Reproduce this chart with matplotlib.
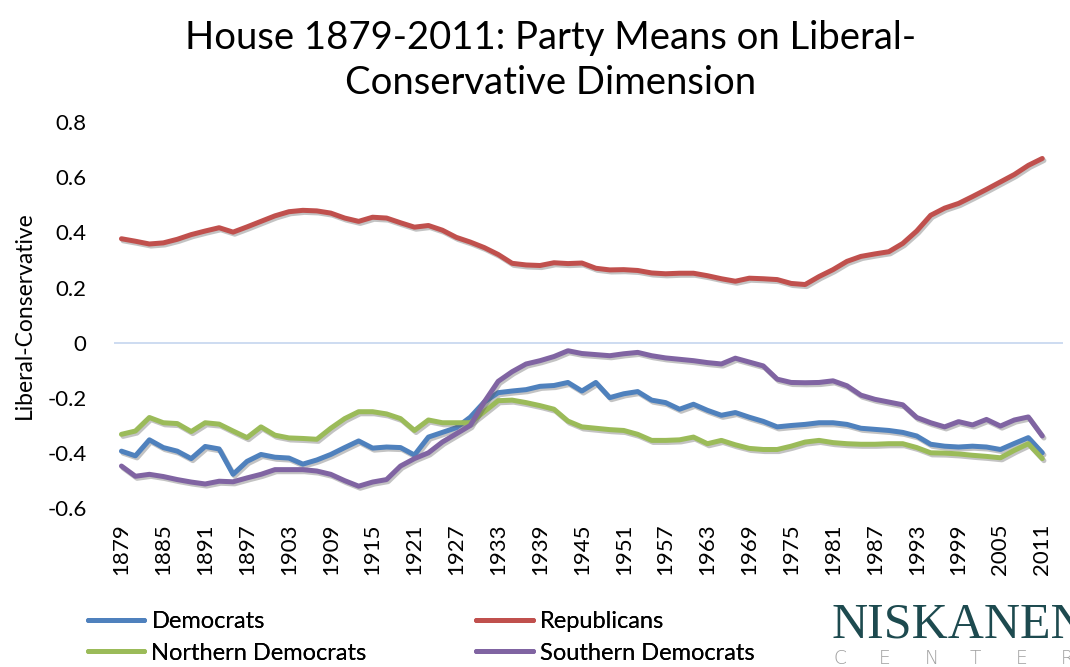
import numpy as np
import matplotlib.pyplot as plt
import matplotlib.patheffects as pe
from matplotlib.lines import Line2D

plt.rcParams['font.family'] = ['Lato', 'DejaVu Sans']

# Congress start years, 1879..2011 (every 2 years)
years = list(range(1879, 2012, 2))
tick_years = list(range(1879, 2012, 6))

democrats = [
    -0.393, -0.410, -0.352, -0.380, -0.393, -0.420, -0.376, -0.385, -0.477, -0.430,
    -0.405, -0.415, -0.418, -0.440, -0.425, -0.405, -0.380, -0.356, -0.382, -0.378,
    -0.380, -0.407, -0.342, -0.325, -0.308, -0.270, -0.215, -0.181, -0.175, -0.170,
    -0.158, -0.155, -0.144, -0.175, -0.144, -0.199, -0.185, -0.177, -0.208, -0.217,
    -0.241, -0.223, -0.245, -0.263, -0.253, -0.270, -0.285, -0.305, -0.300, -0.296,
    -0.290, -0.290, -0.296, -0.310, -0.314, -0.318, -0.325, -0.338, -0.368, -0.375,
    -0.378, -0.375, -0.378, -0.387, -0.365, -0.344, -0.399]

republicans = [
    0.377, 0.368, 0.358, 0.362, 0.375, 0.392, 0.405, 0.417, 0.401, 0.420,
    0.440, 0.460, 0.475, 0.480, 0.478, 0.470, 0.452, 0.440, 0.455, 0.452,
    0.435, 0.419, 0.425, 0.408, 0.382, 0.365, 0.345, 0.320, 0.288, 0.282,
    0.280, 0.290, 0.287, 0.289, 0.270, 0.264, 0.265, 0.262, 0.253, 0.250,
    0.252, 0.252, 0.243, 0.232, 0.223, 0.234, 0.232, 0.229, 0.215, 0.211,
    0.240, 0.265, 0.295, 0.313, 0.322, 0.330, 0.360, 0.405, 0.462, 0.488,
    0.505, 0.530, 0.556, 0.583, 0.610, 0.643, 0.668]

northern_dems = [
    -0.332, -0.320, -0.271, -0.290, -0.293, -0.322, -0.290, -0.295, -0.320, -0.344,
    -0.305, -0.335, -0.345, -0.347, -0.350, -0.310, -0.275, -0.250, -0.250, -0.258,
    -0.275, -0.318, -0.280, -0.290, -0.290, -0.290, -0.250, -0.210, -0.208, -0.217,
    -0.228, -0.241, -0.284, -0.305, -0.310, -0.315, -0.318, -0.332, -0.354, -0.354,
    -0.352, -0.342, -0.366, -0.354, -0.370, -0.383, -0.387, -0.387, -0.375, -0.360,
    -0.354, -0.362, -0.366, -0.368, -0.368, -0.366, -0.366, -0.380, -0.399, -0.400,
    -0.403, -0.408, -0.412, -0.417, -0.390, -0.366, -0.420]

southern_dems = [
    -0.447, -0.484, -0.477, -0.485, -0.496, -0.505, -0.512, -0.502, -0.504, -0.490,
    -0.477, -0.460, -0.460, -0.460, -0.465, -0.477, -0.500, -0.520, -0.505, -0.496,
    -0.447, -0.420, -0.399, -0.360, -0.330, -0.300, -0.215, -0.140, -0.105, -0.077,
    -0.065, -0.050, -0.029, -0.039, -0.043, -0.047, -0.040, -0.035, -0.047, -0.055,
    -0.060, -0.065, -0.072, -0.077, -0.056, -0.070, -0.084, -0.132, -0.144, -0.145,
    -0.144, -0.138, -0.156, -0.190, -0.205, -0.215, -0.225, -0.271, -0.290, -0.305,
    -0.286, -0.298, -0.278, -0.302, -0.280, -0.269, -0.338]

series = [
    ('Democrats', democrats, '#4F81BD'),
    ('Republicans', republicans, '#C0504D'),
    ('Northern Democrats', northern_dems, '#9BBB59'),
    ('Southern Democrats', southern_dems, '#8064A2'),
]

fig = plt.figure(figsize=(10.7, 6.67), dpi=100)
ax = fig.add_axes([0.107, 0.238, 0.886, 0.579])

shadow = [pe.SimpleLineShadow(offset=(1.2, -1.5), shadow_color='#555555', alpha=0.35),
          pe.Normal()]

# zero line (category axis in the original)
ax.axhline(0, color='#C9D9F0', linewidth=1.3, zorder=1)

for name, vals, col in series:
    ax.plot(years, vals, color=col, linewidth=3.6, solid_joinstyle='round',
            solid_capstyle='round', path_effects=shadow, zorder=3)

ax.set_ylim(-0.6, 0.8)
ax.set_xlim(1878, 2013.9)
ax.set_yticks(np.arange(-0.6, 0.81, 0.2))
ax.set_yticklabels(['-0.6', '-0.4', '-0.2', '0', '0.2', '0.4', '0.6', '0.8'])
ax.set_xticks(tick_years)
ax.set_xticklabels([str(y) for y in tick_years], rotation=90)
ax.tick_params(axis='y', length=0, pad=20, labelsize=16)
ax.tick_params(axis='x', length=0, pad=11, labelsize=16)
for s in ax.spines.values():
    s.set_visible(False)

ax.set_ylabel('Liberal-Conservative', fontsize=16.5, labelpad=9)

fig.text(0.515, 0.943, 'House 1879-2011: Party Means on Liberal-', ha='center',
         va='center', fontsize=27.5)
fig.text(0.515, 0.876, 'Conservative Dimension', ha='center', va='center', fontsize=27.5)

# legend in two separate columns
def make_handles(items):
    return [Line2D([0], [0], color=c, linewidth=3.6, solid_capstyle='round') for _, _, c in items]

col1 = [series[0], series[2]]
col2 = [series[1], series[3]]
for items, xpos in [(col1, 0.082), (col2, 0.445)]:
    leg = fig.legend(make_handles(items), [n for n, _, _ in items], loc='upper left',
                     bbox_to_anchor=(xpos, 0.084), frameon=False, fontsize=17,
                     handlelength=2.4, handletextpad=0.3, labelspacing=0.45,
                     borderaxespad=0, borderpad=0)
    fig.add_artist(leg)

# logo
fig.text(0.777, 0.044, 'NISKANEN', fontsize=36, family='Liberation Serif',
         color='#1D4A4F', ha='left', va='baseline')
for k, ch in enumerate('CENTER'):
    fig.text(0.779 + k * 0.0425, 0.004, ch, fontsize=13.5, family='DejaVu Sans',
             fontweight='light', color='#A0A0A0', ha='left', va='baseline')

fig.savefig('out.png', dpi=100)
